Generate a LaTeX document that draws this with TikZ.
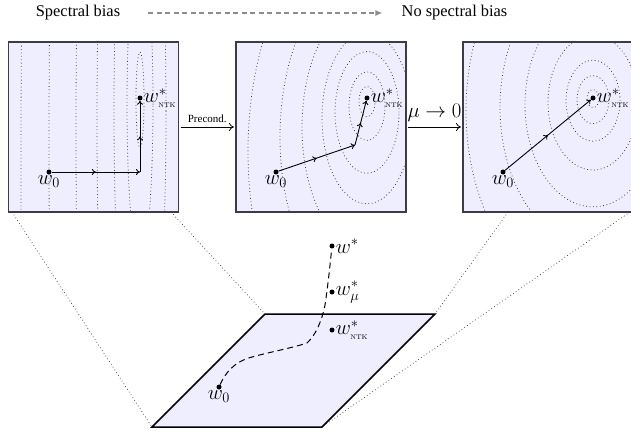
\documentclass[tikz,border=0pt]{standalone}
\usepackage{fontspec}
\newfontfamily\timesfont{Liberation Serif}
\usetikzlibrary{arrows.meta,decorations.markings}
\definecolor{panelfill}{RGB}{238,238,255}
\definecolor{arrowgray}{RGB}{140,140,140}
\definecolor{framegray}{RGB}{60,60,70}
\newcommand\mycontours[5]{% cx, cy, aspect, shift, list
  \foreach \rr in {#5}{%
    \draw[contour] (#1,{#2+#4*\rr}) ellipse [x radius={\rr*1pt}, y radius={#3*\rr*1pt}];
  }}
\newcommand\ntk{\mbox{\fontsize{6.8}{7}\selectfont NTK}}
\begin{document}
\begin{tikzpicture}[x=1pt,y=-1pt,
  panel/.style={draw=framegray, line width=1.3pt, fill=panelfill, minimum width=170pt, minimum height=170pt, inner sep=0pt, outer sep=0pt},
  contour/.style={black!75, line width=0.8pt, dash pattern=on 0.8pt off 2.6pt},
  guide/.style={black!80, line width=0.7pt, dash pattern=on 0.7pt off 2.6pt},
  dot/.style={circle, fill=black, inner sep=0pt, minimum size=5pt},
  mlbl/.style={font=\fontsize{19.5}{21}\selectfont, inner sep=1pt},
  tlbl/.style={font=\timesfont\fontsize{16.4}{19}\selectfont, inner sep=0pt},
  traj/.style={line width=0.9pt, -{To[length=4pt,width=6pt]}, postaction={decorate},
    decoration={markings, mark=at position 0.5 with {\arrow{To[length=4pt,width=6pt]}}}},
  conn/.style={line width=0.8pt, -{To[length=5pt,width=8pt]}},
  plane/.style={draw=black, line width=1.5pt, fill=panelfill, line join=miter},
  pathdash/.style={line width=1pt, dash pattern=on 6pt off 4pt},
  toparrow/.style={arrowgray, line width=1.8pt, dash pattern=on 5pt off 3.5pt, -{Latex[length=7pt,width=6pt]}},
]
\useasboundingbox (0,0) rectangle (631,431);

% top legend
\node[tlbl] (sb) at (78,13) {Spectral bias};
\node[tlbl] (nsb) at (454.5,13) {No spectral bias};
\draw[toparrow] ([xshift=28pt]sb.east) -- ([xshift=-19pt]nsb.west);

% panels
\node[panel] (P1) at (93.5,127) {};
\node[panel] (P2) at (321,127) {};
\node[panel] (P3) at (548,127) {};

\begin{scope}
  \clip (P1.south west) rectangle (P1.north east);
  \mycontours{140}{98}{12}{0.5}{4,13,26,43,64,91,119}
\end{scope}
\begin{scope}
  \clip (P2.south west) rectangle (P2.north east);
  \mycontours{367}{98}{1.9}{0.45}{8,18,32,45,65,87,119}
\end{scope}
\begin{scope}
  \clip (P3.south west) rectangle (P3.north east);
  \mycontours{593}{98}{1.5}{0.1}{6,16,27,45,68,93,127}
\end{scope}

% panel 1 trajectory
\node[dot] (a0) at (49,172) {};
\coordinate (ac) at (140,172);
\node[dot] (as) at (140,98) {};
\draw[traj] (a0) -- (ac);
\draw[traj] (ac) -- (as);
\node[mlbl, anchor=north] (a0l) at (a0.south) {$w_0$};
\node[mlbl, anchor=west] (asl) at (as.east) {$w^*_{\ntk}$};

% panel 2 trajectory
\node[dot] (b0) at (276,172) {};
\coordinate (bc) at (355,145);
\node[dot] (bs) at (367,98) {};
\draw[traj] (b0) -- (bc);
\draw[traj] (bc) -- (bs);
\node[mlbl, anchor=north] (b0l) at (b0.south) {$w_0$};
\node[mlbl, anchor=west] (bsl) at (bs.east) {$w^*_{\ntk}$};

% panel 3 trajectory
\node[dot] (c0) at (503,172) {};
\node[dot] (cs) at (593,98) {};
\draw[traj] (c0) -- (cs);
\node[mlbl, anchor=north] (c0l) at (c0.south) {$w_0$};
\node[mlbl, anchor=west] (csl) at (cs.east) {$w^*_{\ntk}$};

% connectors between panels
\draw[conn] ([xshift=2pt]P1.east) -- node[above=4pt, font=\timesfont\fontsize{11}{12}\selectfont, inner sep=0pt] (precl) {Precond.} ([xshift=-2pt]P2.west);
\draw[conn] ([xshift=2pt]P2.east) -- node[above=5pt, font=\fontsize{19.5}{21}\selectfont, inner sep=0pt] (mul) {$\mu\to0$} ([xshift=-2pt]P3.west);

% bottom plane
\coordinate (pBL) at (152,427);
\coordinate (pBR) at (322,427);
\coordinate (pTR) at (435,314);
\coordinate (pTL) at (265,314);
\coordinate (g1) at (12,212);
\coordinate (g2) at (171,212);
\coordinate (g3) at (508,212);
\coordinate (g4) at (630,212);
\draw[guide] (g1) -- (pBL);
\draw[guide] (g2) -- (pTL);
\draw[guide] (g3) -- (pTR);
\draw[guide] (g4) -- (pBR);
\draw[plane] (pBL) -- (pBR) -- (pTR) -- (pTL) -- cycle;

\node[dot] (d0) at (219,387) {};
\node[dot] (dn) at (332,330) {};
\node[dot] (dm) at (332,292) {};
\node[dot] (ds) at (332,246) {};
\coordinate (k1) at (252,357);
\coordinate (k2) at (307,343);
\coordinate (k3) at (325,305);
\draw[pathdash] (d0) .. controls (225,374) and (233,362) .. (k1)
  .. controls (270,352) and (292,348) .. (k2)
  .. controls (316,335) and (322,320) .. (k3)
  .. controls (328,285) and (330,265) .. (ds);
\node[mlbl, anchor=north] (d0l) at (d0.south) {$w_0$};
\node[mlbl, anchor=west] (dnl) at (dn.east) {$w^*_{\ntk}$};
\node[mlbl, anchor=west] (dml) at (dm.east) {$w^*_\mu$};
\node[mlbl, anchor=west] (dsl) at (ds.east) {$w^*$};
\end{tikzpicture}
\end{document}
